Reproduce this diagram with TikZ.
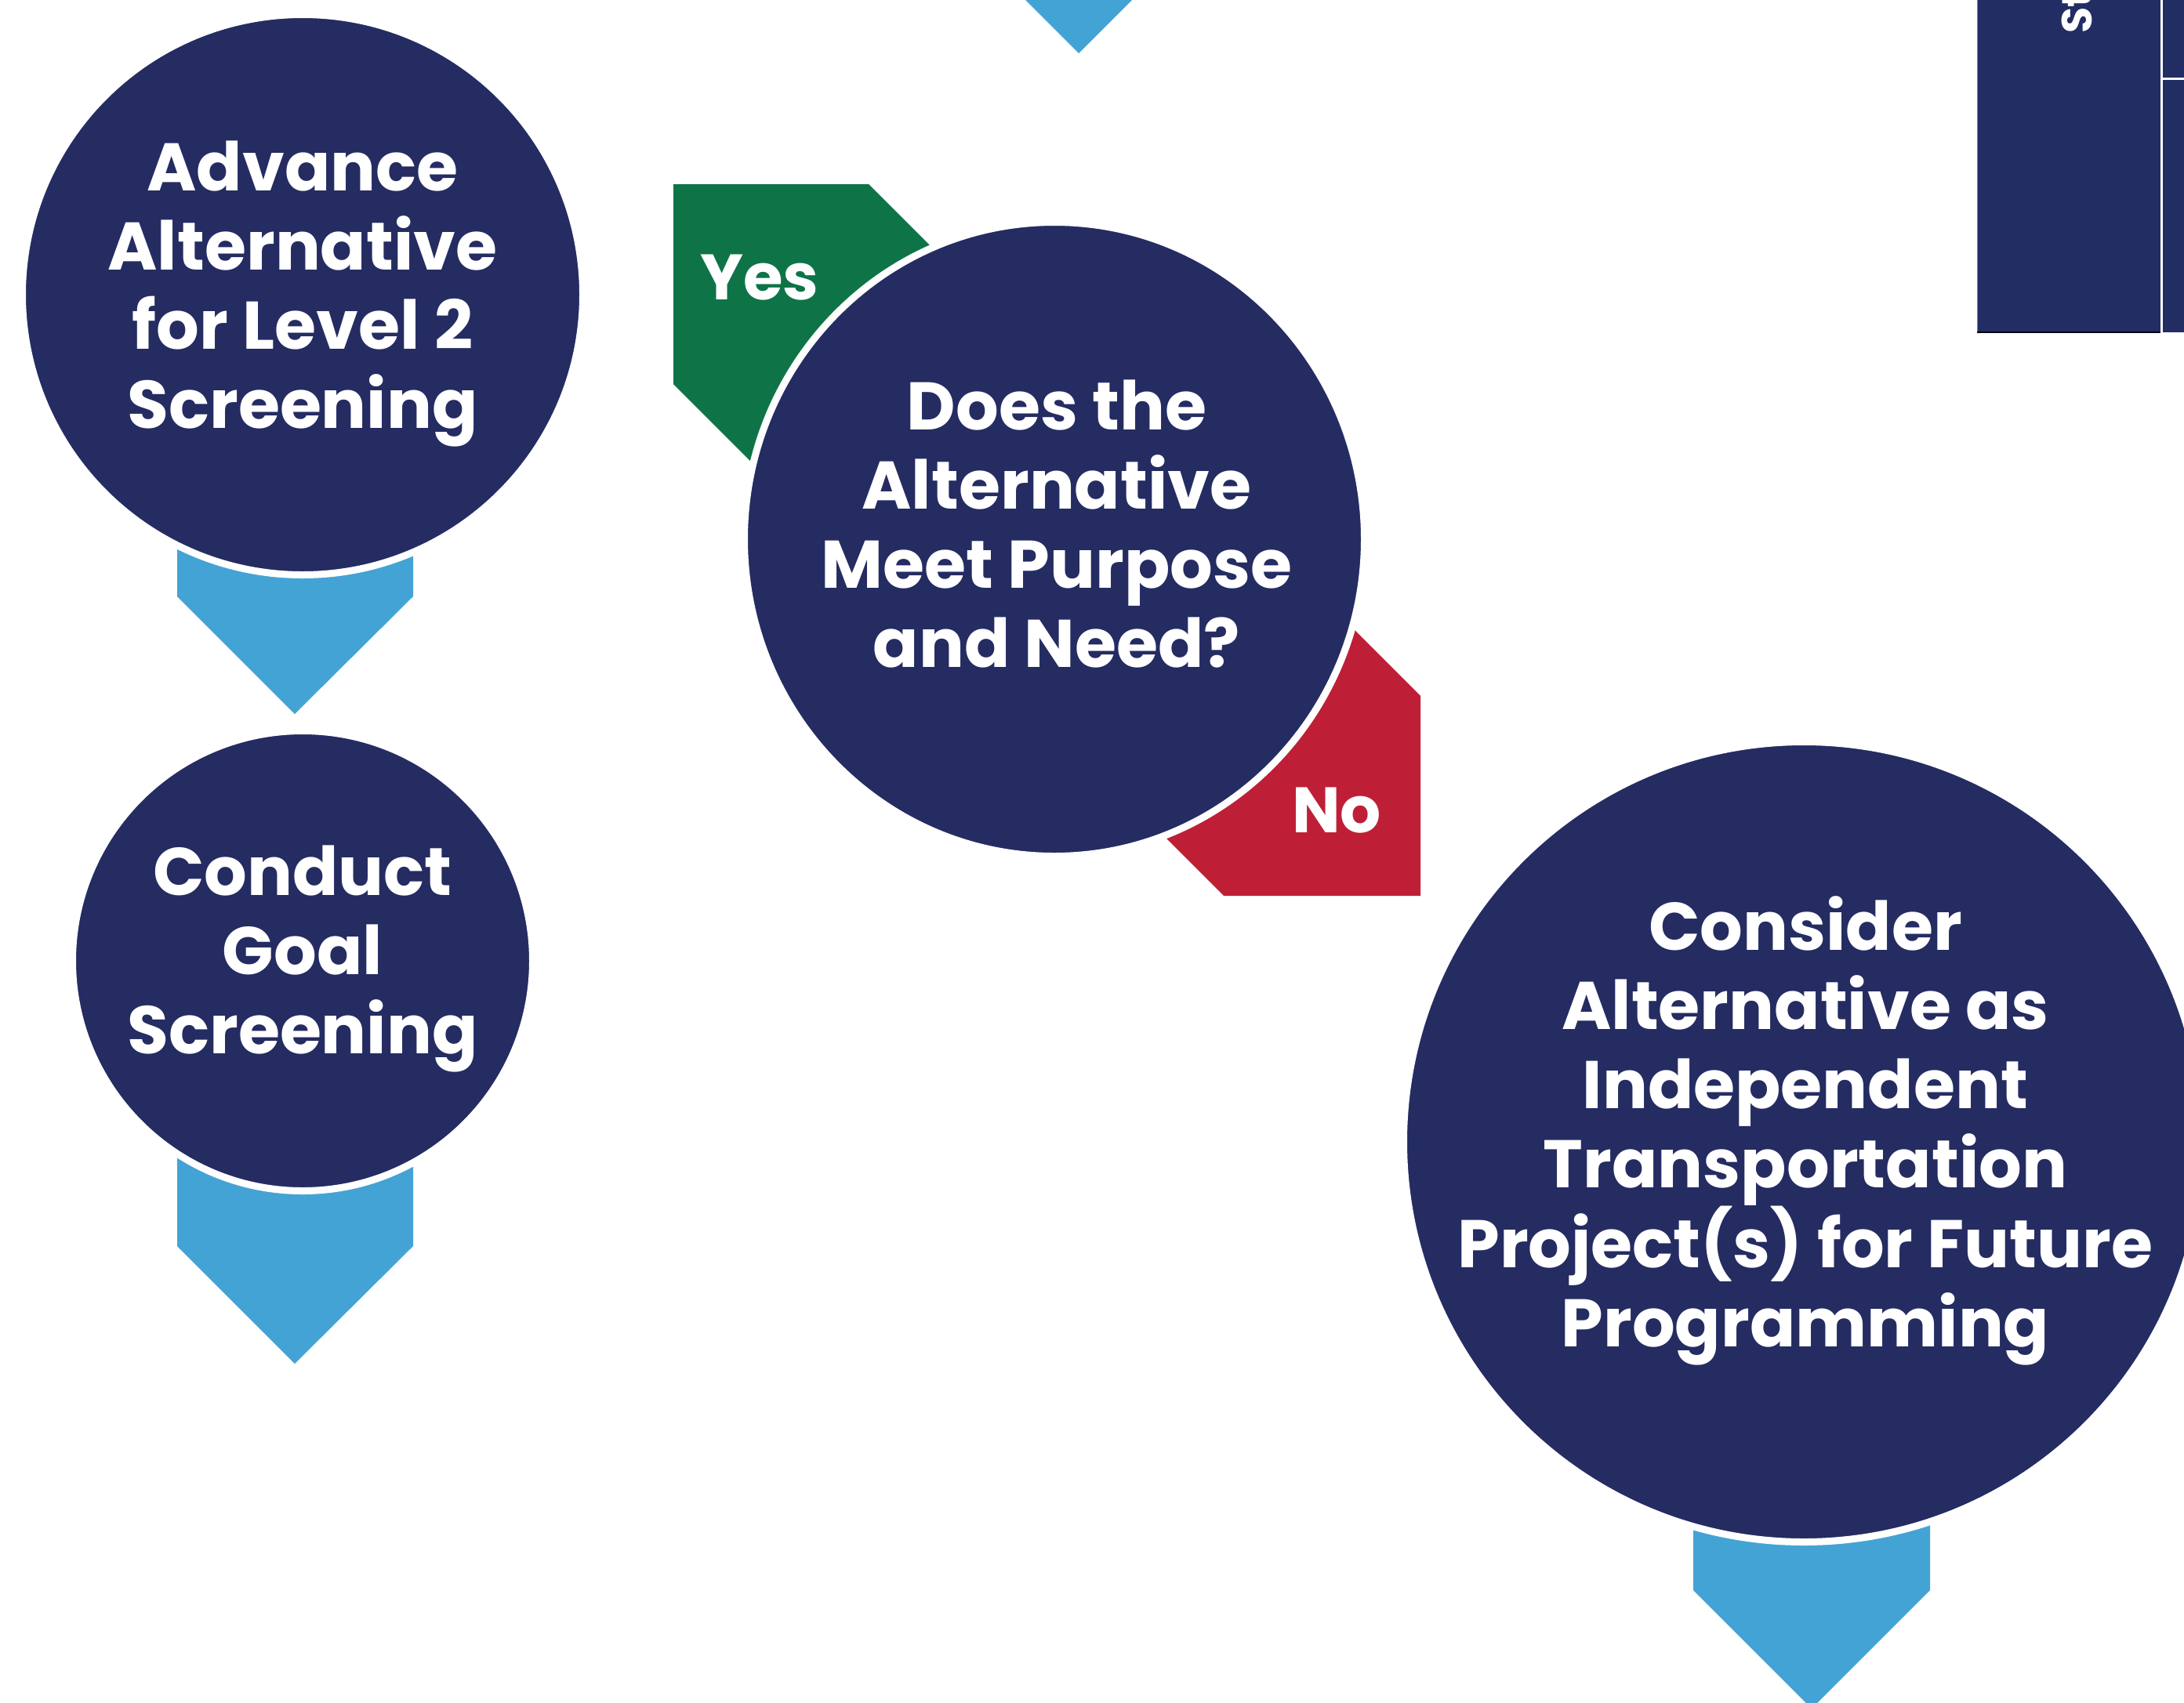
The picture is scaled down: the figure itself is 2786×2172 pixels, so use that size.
\documentclass[tikz,border=0pt]{standalone}
\usepackage{fontspec}
\setmainfont{Poppins}
\usetikzlibrary{shapes.geometric}
\definecolor{navy}{RGB}{36,44,98}
\definecolor{boxnavy}{RGB}{33,45,99}
\definecolor{tabgreen}{RGB}{14,116,72}
\definecolor{tabred}{RGB}{190,31,55}
\definecolor{arrowblue}{RGB}{68,163,213}
\tikzset{
  bubble/.style={circle, fill=navy, draw=white, line width=9pt, inner sep=0pt},
  bubbletext/.style={text=white, font=\fontsize{86}{101}\selectfont\bfseries, align=center, inner sep=0pt},
  tabtext/.style={text=white, font=\fontsize{82}{90}\selectfont\bfseries, inner sep=0pt},
  downarrow/.style={fill=arrowblue},
}
\begin{document}
\begin{tikzpicture}[x=1pt,y=-1pt]
\useasboundingbox (0,0) rectangle (2786,2172);
\clip (0,0) rectangle (2786,2172);
% top-right boxes
\fill[boxnavy] (2522,-10) rectangle (2800,424);
\draw[line width=1pt, color=boxnavy!60!white] (2522,-10) -- (2522,424);
\draw[line width=2.5pt, black] (2522,424) -- (2756,424);
\draw[line width=3pt, white] (2757,-10) -- (2757,426);
\draw[line width=3pt, white] (2757,100) -- (2800,100);
\node[text=white, font=\fontsize{54}{60}\selectfont\bfseries, inner sep=0pt, rotate=90, anchor=base west] (sttext) at (2668,43) {St};
% arrows
\fill[downarrow] (1226,-90) -- (1526,-90) -- (1526,-82) -- (1376,68) -- (1226,-82) -- cycle;
\fill[downarrow] (226,400) -- (527,400) -- (527,761) -- (376,911) -- (226,761) -- cycle;
\fill[downarrow] (226,1226) -- (527,1226) -- (527,1590) -- (376,1740) -- (226,1590) -- cycle;
\fill[downarrow] (2160,1457) -- (2462,1457) -- (2462,2029) -- (2311,2180) -- (2160,2029) -- cycle;
% tabs
\fill[tabgreen] (859,235) -- (1108,235) -- (1408,535) -- (1159,790) -- (859,490) -- cycle;
\fill[tabred] (1812,1143) -- (1561,1143) -- (1261,843) -- (1512,588) -- (1812,888) -- cycle;
\node[tabtext] (yes) at (969,354) {Yes};
\node[tabtext] (no) at (1705,1034) {No};
% bubbles
\node[bubble, minimum size=715pt] (c1) at (386,376) {};
\node[bubble, minimum size=587pt] (c2) at (386,1226) {};
\node[bubble, ellipse, minimum width=791pt, minimum height=809pt] (c3) at (1345,688) {};
\node[bubble, minimum size=1021pt] (c4) at (2301,1457) {};
\node[bubbletext] (t1) at (386,375) {Advance\\Alternative\\for Level 2\\Screening};
\node[bubbletext] (t2) at (386,1223) {Conduct\\Goal\\Screening};
\node[bubbletext] (t3) at (1348,669) {Does the\\Alternative\\Meet Purpose\\and Need?};
\node[bubbletext] (t4) at (2303,1443) {Consider\\Alternative as\\Independent\\Transportation\\Project(s) for Future\\Programming};
\end{tikzpicture}
\end{document}
